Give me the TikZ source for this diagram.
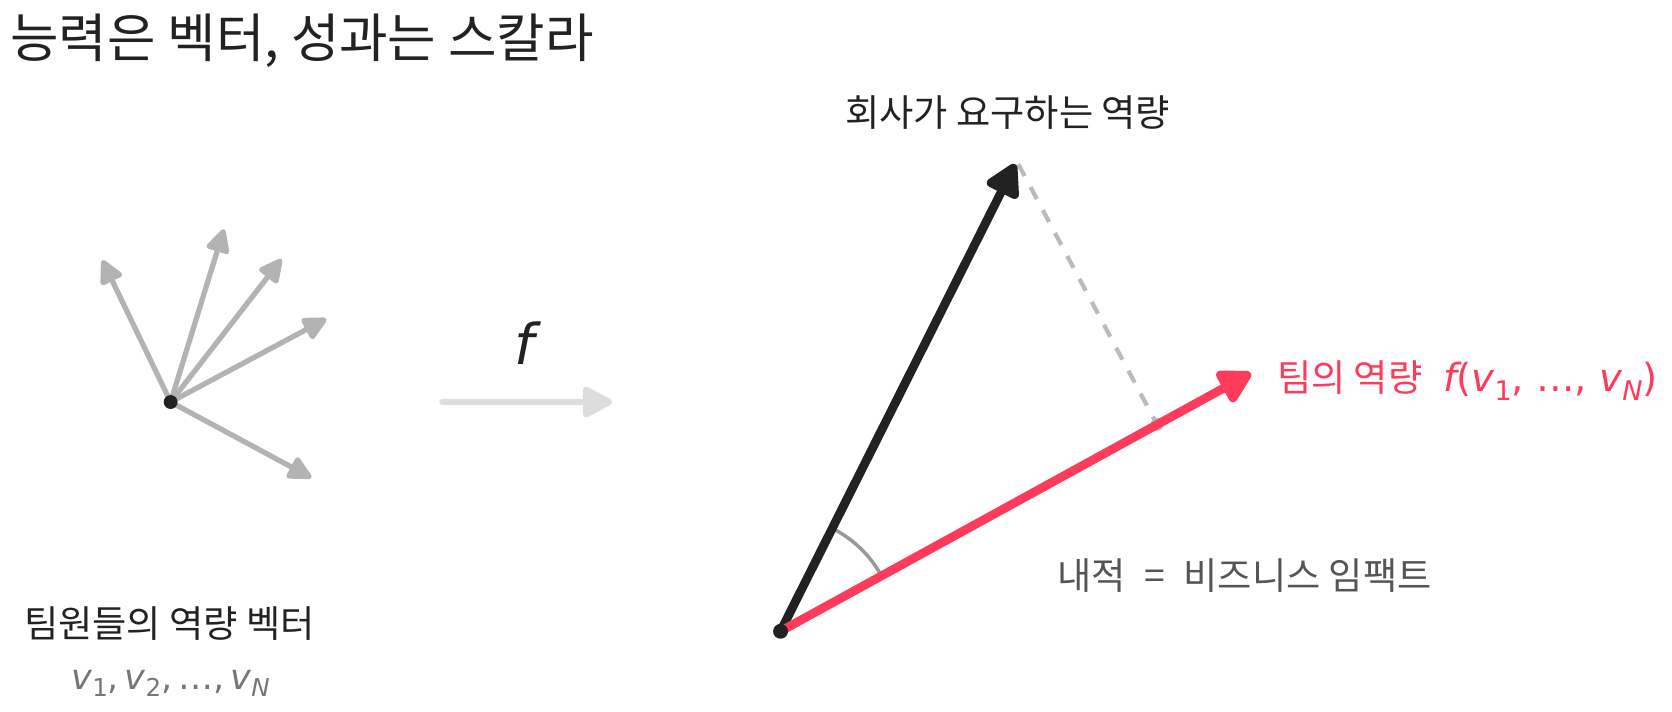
\documentclass[tikz,border=0pt]{standalone}
\usepackage{fontspec}
\setmainfont{Noto Sans CJK KR}
\newfontfamily\mathfnt{DejaVu Sans}
\usetikzlibrary{arrows.meta, calc}

\definecolor{inkblack}{HTML}{222222}
\definecolor{teamred}{RGB}{255,59,92}
\definecolor{membergray}{HTML}{B3B3B3}
\definecolor{mapgray}{HTML}{DDDDDD}
\definecolor{projgray}{HTML}{BBBBBB}
\definecolor{anglegray}{HTML}{999999}
\definecolor{subgray}{HTML}{777777}
\definecolor{notegray}{HTML}{555555}

\newcommand{\mv}[1]{{\mathfnt\itshape #1}}
\newcommand{\msub}[1]{\raisebox{-0.4ex}{\scalebox{0.7}{\mathfnt #1}}}

\tikzset{
  memberarrow/.style={membergray, line width=1.5pt, -{Triangle[length=7.6pt, width=7.2pt, round]}},
  maparrow/.style={mapgray, line width=1.9pt, line cap=round, -{Triangle[length=9.5pt, width=9.5pt, round]}},
  bigarrow/.style={line width=2.5pt, -{Triangle[length=10.5pt, width=11pt, round]}},
  label/.style={font=\fontsize{10.6pt}{12pt}\selectfont, inner sep=0pt},
}

\begin{document}
\begin{tikzpicture}[x=0.010663cm, y=0.010663cm]
    \useasboundingbox (0, 44.2) rectangle (1568, 711);

    % title
    \node[anchor=west, inner sep=0pt, text=inkblack, font=\fontsize{15pt}{17pt}\selectfont] (title) at (9, 673) {능력은 벡터, 성과는 스칼라};

    % team member vectors
    \coordinate (o1) at (160, 334);
    \coordinate (m1) at (96, 467);
    \coordinate (m2) at (210, 496);
    \coordinate (m3) at (264, 468);
    \coordinate (m4) at (306, 412);
    \coordinate (m5) at (292, 263);
    \foreach \m in {m1, m2, m3, m4, m5}
        \draw[memberarrow] (o1) -- (\m);
    \fill[inkblack] (o1) circle (6.5);

    \node[label, text=inkblack] (memberlabel) at (159, 126) {팀원들의 역량 벡터};
    \node[label, text=subgray, font=\fontsize{10pt}{12pt}\selectfont] (membervec) at (160, 70) {\mv{v}\msub{1}{\mathfnt,\,}\mv{v}\msub{2}{\mathfnt,\,…,\,}\mv{v}\msub{\itshape N}};

    % mapping f
    \coordinate (fs) at (415, 334);
    \coordinate (fe) at (574, 334);
    \draw[maparrow] (fs) -- (fe);
    \node[inner sep=0pt, text=inkblack, font=\fontsize{16pt}{18pt}\selectfont] (flabel) at (492, 389) {\mv{f}};

    % company vs team
    \coordinate (o2) at (732, 119);
    \coordinate (company) at (952, 557);
    \coordinate (team) at (1173, 361);
    \coordinate (foot) at (1085, 313);
    \coordinate (dashtop) at (955, 557);

    \draw[projgray, line width=1.2pt, dash pattern=on 3.8pt off 3.6pt] (dashtop) -- (foot);
    \fill[projgray] (foot) circle (6);
    \draw[anglegray, line width=1pt] ($(o2)+(28.9:108)$) arc (28.9:63.4:108);
    \draw[bigarrow, inkblack] (o2) -- (company);
    \draw[bigarrow, teamred] (o2) -- (team);
    \fill[inkblack] (o2) circle (7);

    \node[label, text=inkblack] (companylabel) at (945, 605) {회사가 요구하는 역량};
    \node[label, anchor=west, text=teamred] (teamlabel) at (1197, 354) {팀의 역량\hspace{0.55em}{\fontsize{11pt}{12pt}\selectfont\mv{f}{\mathfnt(}\mv{v}\msub{1}{\mathfnt, …, }\mv{v}\msub{\itshape N}{\mathfnt)}}};
    \node[label, text=notegray] (dotlabel) at (1167, 171) {내적\hspace{0.5em}=\hspace{0.5em}비즈니스 임팩트};
\end{tikzpicture}
\end{document}
